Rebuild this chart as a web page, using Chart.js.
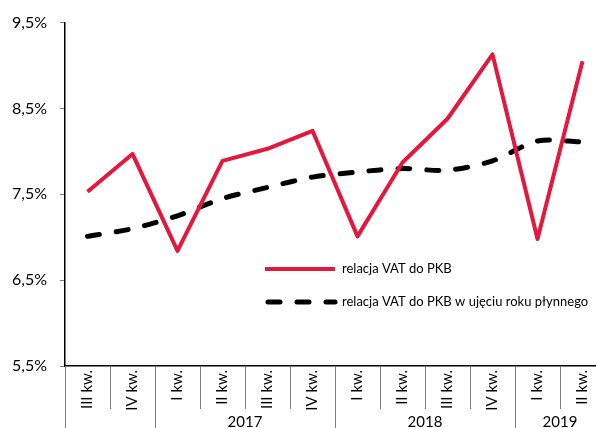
<!DOCTYPE html>
<html>
<head>
<meta charset="utf-8">
<script src="https://cdn.jsdelivr.net/npm/chart.js@4/dist/chart.umd.min.js"></script>
<style>
  html, body { margin: 0; padding: 0; overflow: hidden; background: #fff; }
  #wrap { width: 612px; height: 428px; }
</style>
</head>
<body>
<div id="wrap"><canvas id="chart"></canvas></div>
<script>
// quarters and the year each belongs to (first two have no year label)
const quarters = ["III kw.", "IV kw.", "I kw.", "II kw.", "III kw.", "IV kw.", "I kw.", "II kw.", "III kw.", "IV kw.", "I kw.", "II kw."];
const years = ["", "", "2017", "2017", "2017", "2017", "2018", "2018", "2018", "2018", "2019", "2019"];

const vatToGdp = [7.53, 7.97, 6.84, 7.89, 8.03, 8.24, 7.01, 7.87, 8.38, 9.13, 6.98, 9.05];
const vatToGdpRolling = [7.01, 7.10, 7.25, 7.45, 7.58, 7.70, 7.76, 7.80, 7.78, 7.89, 8.12, 8.11];

const yTicks = [5.5, 6.5, 7.5, 8.5, 9.5];

const RED = "#E4173E";
const FONT = "Lato, 'Open Sans', sans-serif";

// dividers under the x axis + year labels
const groupAxis = {
    id: "groupAxis",
    afterDraw(chart) {
        const ctx = chart.ctx;
        const x = chart.scales.x;
        const area = chart.chartArea;
        const step = x.width / quarters.length;
        const bottom = chart.height;
        ctx.save();
        ctx.strokeStyle = "#7f7f7f";
        ctx.lineWidth = 1;
        for (let i = 0; i <= quarters.length; i++) {
            const px = Math.round(x.left + i * step) + 0.5;
            const newYear = i === 0 || i === quarters.length || years[i] !== years[i - 1];
            ctx.beginPath();
            ctx.moveTo(px, area.bottom);
            ctx.lineTo(px, newYear ? bottom : area.bottom + 43);
            ctx.stroke();
        }
        // year labels centred under their group
        ctx.fillStyle = "#000";
        ctx.font = "15px " + FONT;
        ctx.textAlign = "center";
        ctx.textBaseline = "middle";
        let start = 0;
        for (let i = 1; i <= years.length; i++) {
            if (i === years.length || years[i] !== years[start]) {
                if (years[start]) {
                    const cx = x.left + ((start + i) / 2) * step;
                    ctx.fillText(years[start], cx, bottom - 6);
                }
                start = i;
            }
        }
        ctx.restore();
    }
};

// legend drawn inside the plot
const innerLegend = {
    id: "innerLegend",
    afterDraw(chart) {
        const ctx = chart.ctx;
        const rows = [269, 302];
        ctx.save();
        ctx.font = "13px " + FONT;
        ctx.textBaseline = "middle";
        ctx.fillStyle = "#000";
        chart.data.datasets.forEach((ds, i) => {
            const y = rows[i];
            ctx.strokeStyle = ds.borderColor;
            ctx.lineWidth = ds.borderWidth;
            ctx.lineCap = ds.borderCapStyle || "butt";
            ctx.setLineDash(ds.borderDash || []);
            ctx.beginPath();
            ctx.moveTo(ds.borderDash ? 268 : 265, y);
            ctx.lineTo(335, y);
            ctx.stroke();
            ctx.setLineDash([]);
            ctx.fillText(ds.label, 342, y);
        });
        ctx.restore();
    }
};

new Chart(document.getElementById("chart"), {
    type: "line",
    data: {
        labels: quarters,
        datasets: [
            {
                label: "relacja VAT do PKB",
                data: vatToGdp,
                borderColor: RED,
                borderWidth: 4,
                pointRadius: 0,
                tension: 0,
                borderJoinStyle: "round"
            },
            {
                label: "relacja VAT do PKB w ujęciu roku płynnego",
                data: vatToGdpRolling,
                borderColor: "#000",
                borderWidth: 5,
                borderDash: [12, 17],
                borderCapStyle: "round",
                pointRadius: 0,
                tension: 0.3
            }
        ]
    },
    options: {
        responsive: true,
        maintainAspectRatio: false,
        animation: false,
        layout: { padding: { top: 21, right: 7, left: 0, bottom: 0 } },
        plugins: {
            legend: { display: false },
            tooltip: { enabled: false }
        },
        scales: {
            x: {
                offset: true,
                grid: { display: false, drawTicks: false },
                border: { color: "#000", width: 1.5 },
                ticks: {
                    autoSkip: false,
                    maxRotation: 90,
                    minRotation: 90,
                    padding: 4,
                    color: "#000",
                    font: { family: FONT, size: 15 }
                },
                afterFit(scale) { scale.height = 62; }
            },
            y: {
                min: 5.5,
                max: 9.5,
                afterBuildTicks(scale) {
                    scale.ticks = yTicks.map(v => ({ value: v }));
                },
                grid: {
                    drawOnChartArea: false,
                    drawTicks: true,
                    tickLength: 5,
                    color: "#7f7f7f"
                },
                border: { color: "#000", width: 1.5 },
                ticks: {
                    padding: 13,
                    color: "#000",
                    font: { family: FONT, size: 16 },
                    callback: v => v.toFixed(1).replace(".", ",") + "%"
                },
                afterFit(scale) { scale.width = 65; }
            }
        }
    },
    plugins: [groupAxis, innerLegend]
});
</script>
</body>
</html>
